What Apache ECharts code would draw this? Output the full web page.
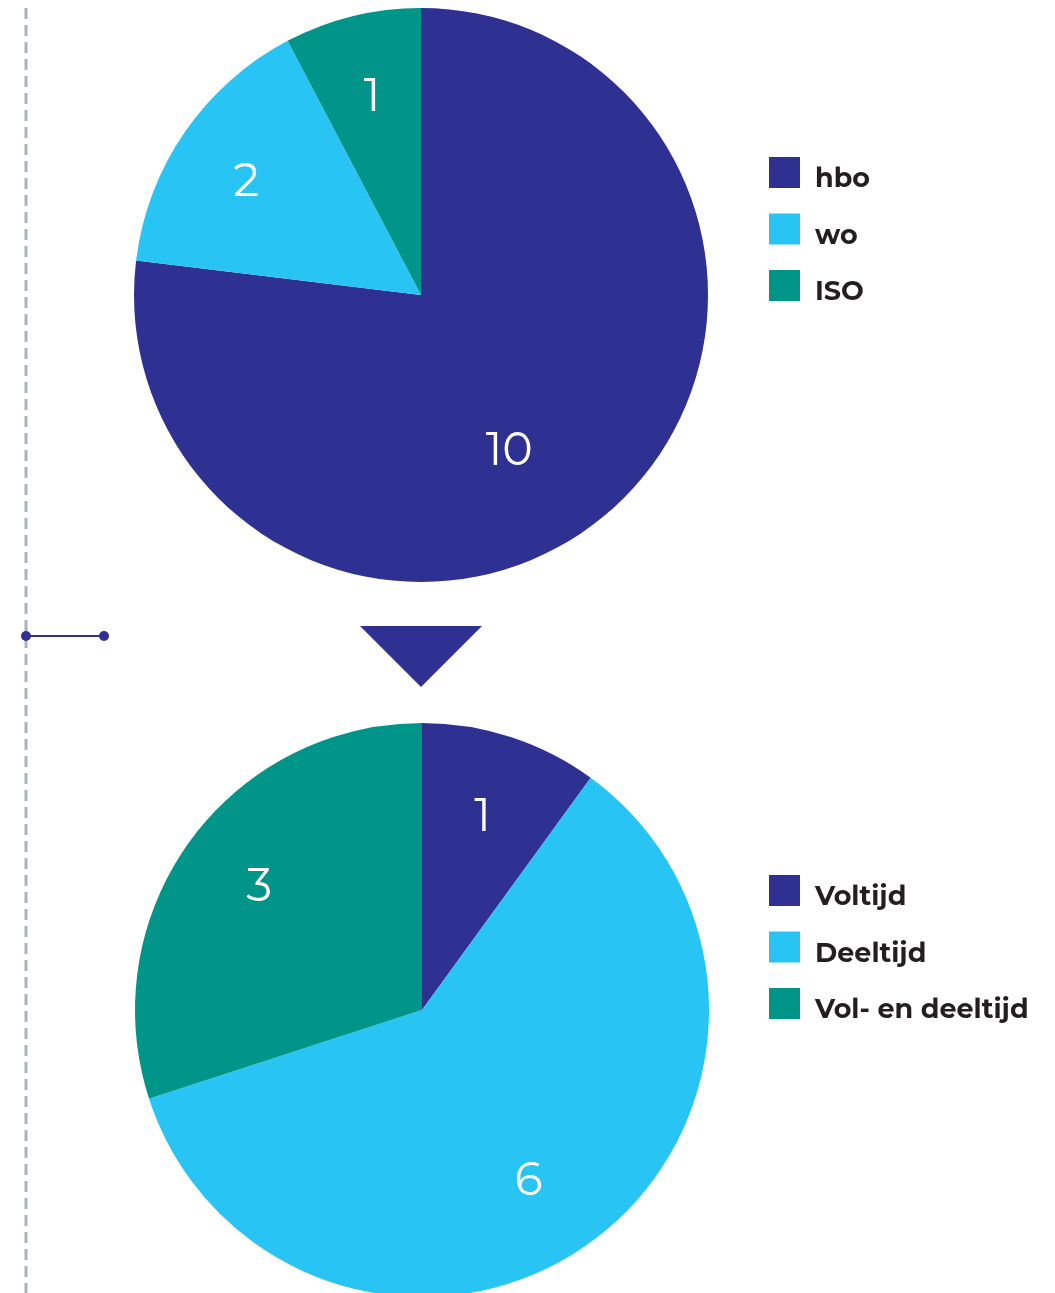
<!DOCTYPE html>
<html>
<head>
<meta charset="utf-8">
<script src="https://cdn.jsdelivr.net/npm/echarts@6/dist/echarts.min.js"></script>
<style>
html,body{margin:0;padding:0;background:#fff;}
#chart{width:1055px;height:1293px;}
</style>
</head>
<body>
<div id="chart"></div>
<script>
// Data
var topCategories = ['hbo', 'wo', 'ISO'];
var topValues = [10, 2, 1];
var bottomCategories = ['Voltijd', 'Deeltijd', 'Vol- en deeltijd'];
var bottomValues = [1, 6, 3];

var colors = ['#2E3192', '#28C4F3', '#009588'];
var labelFont = 'Montserrat, "Open Sans", "Noto Sans", sans-serif';
var legendFont = 'Montserrat, "DejaVu Sans", "Noto Sans", sans-serif';

function toData(cats, vals) {
  return cats.map(function (c, i) {
    return { name: c, value: vals[i], itemStyle: { color: colors[i] } };
  });
}

// small manual label nudges (per pie, per slice)
function pieSeries(cats, vals, center, nudges) {
  return [
    {
      type: 'pie',
      center: center,
      radius: 287,
      startAngle: 90,
      clockwise: true,
      silent: true,
      label: { show: false },
      labelLine: { show: false },
      data: toData(cats, vals)
    },
    {
      // transparent overlay only used to position the value labels
      type: 'pie',
      center: center,
      radius: [124, 287],
      startAngle: 90,
      clockwise: true,
      silent: true,
      itemStyle: { color: 'rgba(0,0,0,0)' },
      label: {
        show: true,
        position: 'inside',
        formatter: '{c}',
        color: '#ffffff',
        fontFamily: labelFont,
        fontWeight: 400,
        fontSize: 46
      },
      labelLine: { show: false },
      data: cats.map(function (c, i) { return { name: c, value: vals[i], itemStyle: { color: 'rgba(0,0,0,0)' } }; }),
      labelLayout: function (p) {
        var n = nudges[p.dataIndex] || [0, 0];
        return { dx: n[0], dy: n[1] };
      }
    }
  ];
}

function legend(cats, top) {
  return {
    orient: 'vertical',
    left: 769,
    top: top,
    padding: 0,
    itemWidth: 31,
    itemHeight: 31,
    itemGap: 20.5,
    icon: 'rect',
    selectedMode: false,
    formatter: '{t|{name}}',
    textStyle: {
      fontFamily: legendFont,
      fontWeight: 'bold',
      fontSize: 27,
      color: '#231F20',
      rich: {
        t: {
          fontFamily: legendFont,
          fontWeight: 'bold',
          fontSize: 27,
          color: '#231F20',
          padding: [14, 0, 0, 10]
        }
      }
    },
    data: cats.map(function (c, i) { return { name: c, itemStyle: { color: colors[i] } }; })
  };
}

var chart = echarts.init(document.getElementById('chart'), null, { renderer: 'canvas' });
chart.setOption({
  animation: false,
  backgroundColor: '#ffffff',
  legend: [legend(topCategories, 157), legend(bottomCategories, 875)],
  series: pieSeries(topCategories, topValues, [421, 295], [[-50, 0], [-3, 6], [1, 5]])
    .concat(pieSeries(bottomCategories, bottomValues, [422, 1010], [[-4, 6], [-16, 3], [6, 0]])),
  graphic: [
    {
      type: 'line',
      shape: { x1: 26, y1: 8, x2: 26, y2: 1293 },
      style: { stroke: '#A9B3BA', lineWidth: 3, lineDash: [11, 6] },
      silent: true
    },
    {
      type: 'line',
      shape: { x1: 26, y1: 636, x2: 104, y2: 636 },
      style: { stroke: '#2E3192', lineWidth: 2 },
      silent: true
    },
    { type: 'circle', shape: { cx: 26, cy: 636, r: 5 }, style: { fill: '#2E3192' }, silent: true },
    { type: 'circle', shape: { cx: 104, cy: 636, r: 5 }, style: { fill: '#2E3192' }, silent: true },
    {
      type: 'polygon',
      shape: { points: [[360, 626], [482, 626], [421, 687]] },
      style: { fill: '#2E3192' },
      silent: true
    }
  ]
});
</script>
</body>
</html>
